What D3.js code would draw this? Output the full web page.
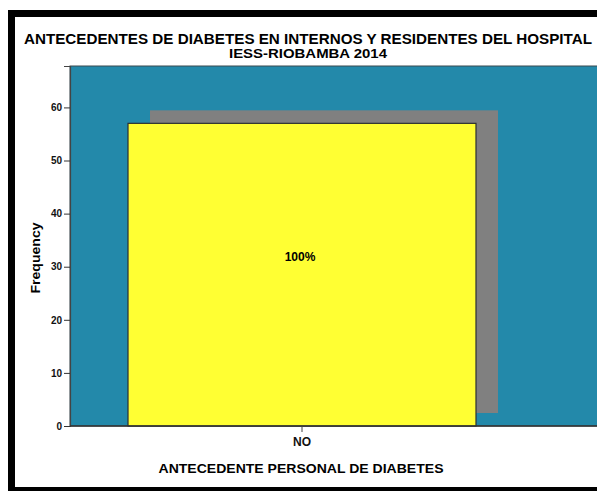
<!DOCTYPE html>
<html><head><meta charset="utf-8">
<script src="https://cdn.jsdelivr.net/npm/d3@7"></script>
<style>html,body{margin:0;padding:0;background:#fff;}svg{display:block;}</style>
</head><body>
<script>
const categories = ["NO"];
const frequencies = [57];
const percentLabels = ["100%"];
const yTicks = [0, 10, 20, 30, 40, 50, 60];
const titleLines = ["ANTECEDENTES DE DIABETES EN INTERNOS Y RESIDENTES DEL HOSPITAL", "IESS-RIOBAMBA 2014"];
const xTitle = "ANTECEDENTE PERSONAL DE DIABETES";
const yTitle = "Frequency";

const W = 597, H = 491;
const svg = d3.select("body").append("svg").attr("width", W).attr("height", H);
const font = "'Liberation Sans', Arial, sans-serif";

// outer frame
svg.append("rect").attr("x", 8).attr("y", 10).attr("width", W + 20).attr("height", H - 10).attr("fill", "#000");
svg.append("rect").attr("x", 15).attr("y", 17).attr("width", W + 20).attr("height", 470).attr("fill", "#fff");

const plot = {left: 70, top: 66, right: 597, bottom: 426};
const y = d3.scaleLinear().domain([0, 67.8]).range([plot.bottom, plot.top]);
const x = d3.scaleBand().domain(categories).range([plot.left, 534]).paddingInner(0).paddingOuter(0.1667);

// plot background
svg.append("rect").attr("x", plot.left).attr("y", plot.top)
  .attr("width", plot.right - plot.left + 5).attr("height", plot.bottom - plot.top)
  .attr("fill", "#2389AA").attr("stroke", "#3a4a50").attr("stroke-width", 1);

// shadow
const sdx = 22, sdy = -13;
svg.append("g").selectAll("rect").data(frequencies).join("rect")
  .attr("x", (d, i) => x(categories[i]) + sdx)
  .attr("y", d => y(d) + sdy)
  .attr("width", x.bandwidth())
  .attr("height", d => y(0) - y(d))
  .attr("fill", "#808080");

// bars
svg.append("g").selectAll("rect").data(frequencies).join("rect")
  .attr("x", (d, i) => x(categories[i]))
  .attr("y", d => y(d))
  .attr("width", x.bandwidth())
  .attr("height", d => y(0) - y(d))
  .attr("fill", "#FFFF33").attr("stroke", "#2b3030").attr("stroke-width", 1.2);

// bar labels
svg.append("g").selectAll("text").data(frequencies).join("text")
  .attr("x", (d, i) => x(categories[i]) + x.bandwidth() / 2 - 2)
  .attr("y", 261)
  .attr("text-anchor", "middle")
  .attr("font-family", font).attr("font-weight", "bold").attr("font-size", 12)
  .text((d, i) => percentLabels[i]);

// y axis
const yAxis = svg.append("g").attr("transform", `translate(${plot.left},0)`)
  .call(d3.axisLeft(y).tickValues(yTicks).tickSize(6).tickPadding(2));
yAxis.select(".domain").attr("stroke", "#444").attr("stroke-width", 1.2);
yAxis.selectAll(".tick line").attr("stroke", "#333");
yAxis.selectAll("text").attr("font-family", font).attr("font-weight", "bold").attr("font-size", 10).attr("fill", "#111");

// x axis
svg.append("line").attr("x1", plot.left).attr("x2", plot.right).attr("y1", plot.bottom).attr("y2", plot.bottom)
  .attr("stroke", "#333").attr("stroke-width", 1.5);
const xAxis = svg.append("g").attr("transform", `translate(0,${plot.bottom})`)
  .call(d3.axisBottom(x).tickSize(6).tickPadding(5));
xAxis.select(".domain").remove();
xAxis.selectAll(".tick line").attr("stroke", "#444");
xAxis.selectAll("text").attr("font-family", font).attr("font-weight", "bold").attr("font-size", 12).attr("fill", "#111");

// titles
svg.append("text").attr("x", 308).attr("y", 43.5).attr("text-anchor", "middle")
  .attr("font-family", font).attr("font-weight", "bold").attr("font-size", 14)
  .attr("textLength", 568).attr("lengthAdjust", "spacingAndGlyphs").text(titleLines[0]);
svg.append("text").attr("x", 308).attr("y", 57.5).attr("text-anchor", "middle")
  .attr("font-family", font).attr("font-weight", "bold").attr("font-size", 12.5)
  .attr("textLength", 158).attr("lengthAdjust", "spacingAndGlyphs").text(titleLines[1]);

svg.append("text").attr("x", 301).attr("y", 473).attr("text-anchor", "middle")
  .attr("font-family", font).attr("font-weight", "bold").attr("font-size", 12.5)
  .attr("textLength", 285).attr("lengthAdjust", "spacingAndGlyphs").text(xTitle);

svg.append("text").attr("transform", "translate(40,258) rotate(-90)").attr("text-anchor", "middle")
  .attr("font-family", font).attr("font-weight", "bold").attr("font-size", 12.5)
  .attr("textLength", 71).attr("lengthAdjust", "spacingAndGlyphs").text(yTitle);
</script>
</body></html>
